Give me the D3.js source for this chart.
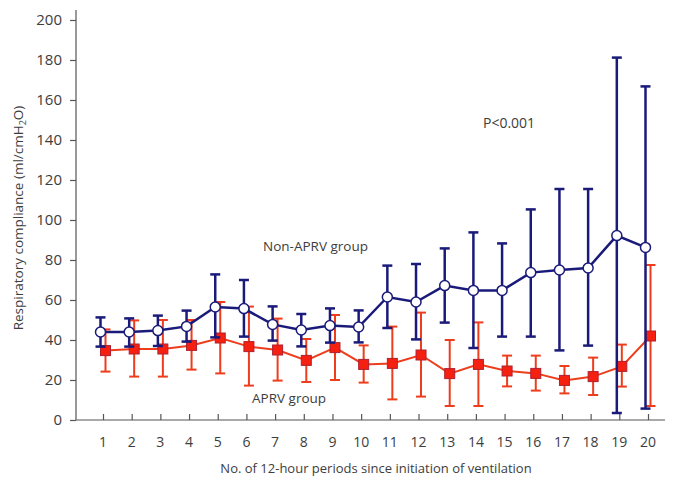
<!DOCTYPE html>
<html><head><meta charset="utf-8">
<script src="https://cdn.jsdelivr.net/npm/d3@7"></script>
<style>body{margin:0;background:#fff;} text{font-family:"Open Sans","Noto Sans",sans-serif;}</style>
</head><body>
<svg id="c" width="685" height="492"></svg>
<script>
const periods = d3.range(1, 21);
const nonMean = [44,44,44.7,46.8,56.5,55.7,47.8,45,47.2,46.5,61.5,59,67.2,64.8,64.8,73.7,75,76,92.2,86.3];
const nonLow  = [36.7,36.7,37,39.2,41.3,41.7,39.7,36.8,38.7,38.8,46,40.3,48.7,36,41.7,41.7,34.8,37.2,3.5,5.7];
const nonHigh = [51.3,50.8,52.2,54.7,72.8,70,56.8,53,55.8,54.8,77.2,78,85.8,93.8,88.3,105.3,115.5,115.5,181.2,166.8];
const aprvMean = [34.7,35.5,35.5,37.3,41,36.7,35,29.8,36.2,27.8,28.3,32.5,23.2,27.8,24.5,23.3,19.8,21.7,26.8,42];
const aprvLow  = [24.2,21.7,21.7,25.2,23.3,17.2,19.7,19,20,18.7,10.3,11.7,7,7,16.8,14.7,13.3,12.5,16.7,7];
const aprvHigh = [45.3,49.8,50,50,59,56.7,50.7,40.5,52.5,37.3,46.7,53.7,40,48.8,32.2,32.2,27,31.2,37.7,77.5];
const yTicks = [0,20,40,60,80,100,120,140,160,180,200];

const svg = d3.select("#c");
const x = d3.scalePoint().domain(periods).range([103, 648]);
const y = d3.scaleLinear().domain([0, 200]).range([420, 20]);
const blue = "#1a1a7a", red = "#ee3d1c", txt = "#3d3d3d";

// axes
const yAx = svg.append("g").attr("transform","translate(76,0)")
  .call(d3.axisLeft(y).tickValues(yTicks).tickSize(6).tickPadding(8));
yAx.select(".domain").remove();
svg.append("line").attr("x1",76).attr("x2",76).attr("y1",10).attr("y2",420).attr("stroke","#555").attr("stroke-width",1.2);
const xAx = svg.append("g").attr("transform","translate(0,420)")
  .call(d3.axisTop(x).tickSize(6).tickFormat(""));
xAx.select(".domain").remove();
svg.append("line").attr("x1",76).attr("x2",665).attr("y1",420).attr("y2",420).attr("stroke","#555").attr("stroke-width",1.2);
svg.selectAll(".tick line").attr("stroke","#555").attr("stroke-width",1.2);
yAx.selectAll("text").attr("fill",txt).attr("font-size",15).style("font-family","'Open Sans','Noto Sans',sans-serif");
svg.append("g").selectAll("text").data(periods).join("text")
  .attr("x", d => x(d)).attr("y", 447).attr("text-anchor","middle")
  .attr("fill",txt).attr("font-size",14).text(d => d);

// axis titles
svg.append("text").attr("x",376).attr("y",473).attr("text-anchor","middle")
  .attr("fill",txt).attr("font-size",13).text("No. of 12-hour periods since initiation of ventilation");
const yl = svg.append("text").attr("transform","translate(23,218) rotate(-90)").attr("text-anchor","middle")
  .attr("fill",txt).attr("font-size",13.5);
yl.append("tspan").text("Respiratory compliance (ml/cmH");
yl.append("tspan").attr("font-size",9).attr("dy",3).text("2");
yl.append("tspan").attr("dy",-3).text("O)");

function series(mean, low, high, off, color, lw) {
  const g = svg.append("g");
  const px = i => x(periods[i]) + off;
  mean.forEach((m, i) => {
    g.append("line").attr("x1",px(i)).attr("x2",px(i)).attr("y1",y(low[i])).attr("y2",y(high[i]))
      .attr("stroke",color).attr("stroke-width",lw);
    [low[i], high[i]].forEach(v => g.append("line").attr("x1",px(i)-5).attr("x2",px(i)+5)
      .attr("y1",y(v)).attr("y2",y(v)).attr("stroke",color).attr("stroke-width",lw));
  });
  g.append("path").datum(mean).attr("fill","none").attr("stroke",color).attr("stroke-width",lw)
    .attr("d", d3.line().x((d,i) => px(i)).y(d => y(d)));
  return {g, px};
}
// red first, blue on top
const r = series(aprvMean, aprvLow, aprvHigh, 2.5, red, 2);
r.g.selectAll("rect.m").data(aprvMean).join("rect").attr("class","m")
  .attr("x",(d,i)=>r.px(i)-5).attr("y",d=>y(d)-5).attr("width",10).attr("height",10)
  .attr("fill","#f5200f").attr("stroke","#b02030").attr("stroke-width",1);
const b = series(nonMean, nonLow, nonHigh, -2.5, blue, 2.5);
b.g.selectAll("circle").data(nonMean).join("circle")
  .attr("cx",(d,i)=>b.px(i)).attr("cy",d=>y(d)).attr("r",5)
  .attr("fill","#fff").attr("stroke",blue).attr("stroke-width",1.5);

// annotations
svg.append("text").attr("x",483).attr("y",128).attr("fill",txt).attr("font-size",14).text("P<0.001");
svg.append("text").attr("x",263).attr("y",251).attr("fill",txt).attr("font-size",13.5).text("Non-APRV group");
svg.append("text").attr("x",252).attr("y",403).attr("fill",txt).attr("font-size",13.5).text("APRV group");
</script>
</body></html>
